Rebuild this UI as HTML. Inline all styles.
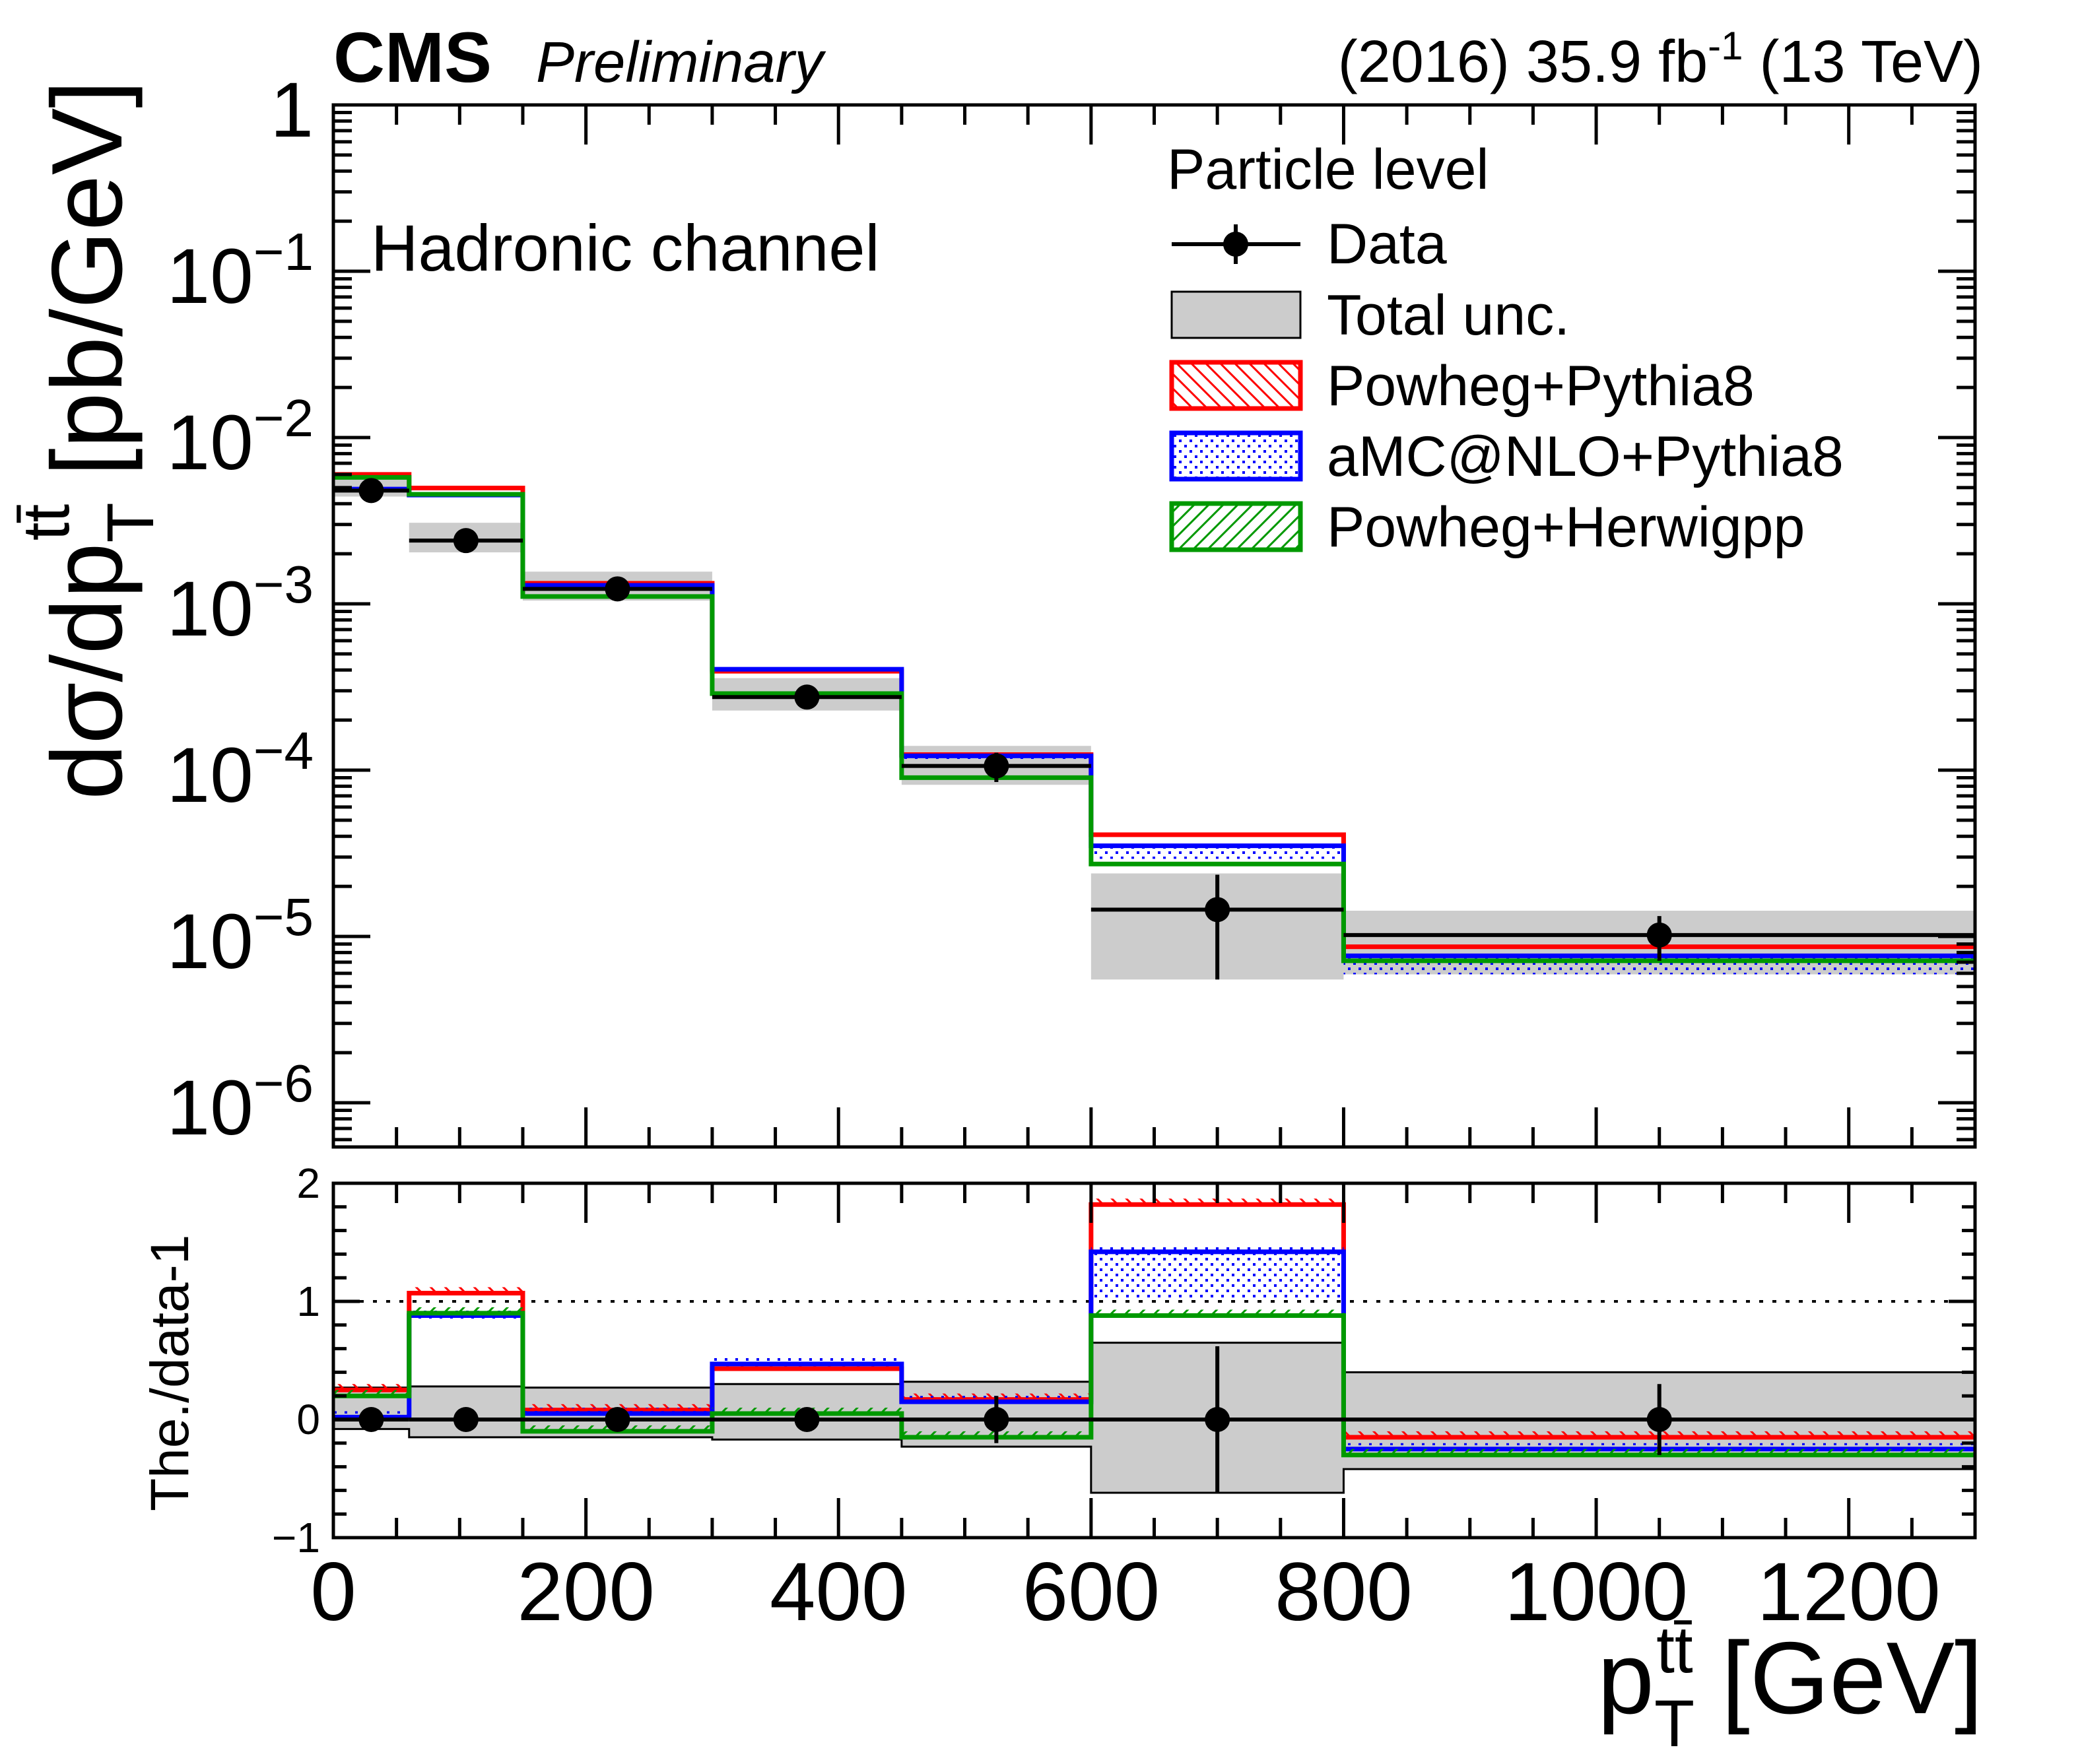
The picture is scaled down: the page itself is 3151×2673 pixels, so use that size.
<!DOCTYPE html>
<html><head><meta charset="utf-8"><style>
body{margin:0;background:#fff}
svg{display:block;font-family:"Liberation Sans",sans-serif}
</style></head><body>
<svg id="c" width="3151" height="2673" viewBox="0 0 3151 2673" xmlns="http://www.w3.org/2000/svg">
<defs>
<pattern id="pr" width="22" height="22" patternUnits="userSpaceOnUse"><path d="M0,0 L22,22 M-11,11 L11,33 M11,-11 L33,11" stroke="#f00" stroke-width="3"/></pattern>
<pattern id="pb" width="16" height="16" patternUnits="userSpaceOnUse"><rect x="2" y="2" width="4" height="4" fill="#00f"/><rect x="10" y="10" width="4" height="4" fill="#00f"/></pattern>
<pattern id="pg" width="22" height="22" patternUnits="userSpaceOnUse"><path d="M0,22 L22,0 M-11,11 L11,-11 M11,33 L33,11" stroke="#090" stroke-width="3"/></pattern>
</defs>
<g id="main"></g>
<g id="ratio"></g>
<g id="txt">
<text x="505" y="124" font-size="108" font-weight="bold">CMS</text>
<text x="812" y="124" font-size="87" font-style="italic">Preliminary</text>
<text x="3004" y="124" font-size="90" text-anchor="end">(2016) 35.9 fb<tspan dy="-34" font-size="60">-1</tspan><tspan dy="34"> (13 TeV)</tspan></text>
<text x="562" y="410" font-size="99">Hadronic channel</text>
<text x="1768" y="286" font-size="86">Particle level</text>
<text transform="translate(184,1212) rotate(-90)" font-size="152">dσ/dp<tspan dy="48" font-size="100">T</tspan><tspan dx="-58" dy="-128" font-size="100">tt̄</tspan><tspan dy="80"> [pb/GeV]</tspan></text>
<text transform="translate(285,2290) rotate(-90)" font-size="82">The./data-1</text>
<text x="3004" y="2596" font-size="155" text-anchor="end">p<tspan dy="50" font-size="100">T</tspan><tspan dx="-58" dy="-112" font-size="100">tt̄</tspan><tspan dy="62"> [GeV]</tspan></text>
</g>
<g id="legend"></g>
</svg>
<script>
const binEdges=[0,60,150,300,450,600,800,1300];
const dataVals=[4.8e-3,2.4e-3,1.23e-3,2.75e-4,1.06e-4,1.45e-5,1.02e-5];
const statErr=[0.03,0.04,0.03,0.1,0.2,0.62,0.3];
const uncUp=[0.27,0.28,0.27,0.3,0.32,0.65,0.4];
const uncDn=[-0.08,-0.15,-0.15,-0.17,-0.23,-0.62,-0.42];
const ratioPowhegPy=[0.25,1.07,0.08,0.43,0.17,1.82,-0.15];
const ratioAmc=[0.02,0.88,0.05,0.47,0.15,1.42,-0.25];
const ratioHerwig=[0.2,0.9,-0.1,0.05,-0.15,0.88,-0.3];
const amcBandDn=[0.03,0.03,0.03,0.05,0.05,0.4,0.17];
const xTicks=[0,200,400,600,800,1000,1200];
const yDecades=[0,-1,-2,-3,-4,-5,-6];
const rTicks=[-1,0,1,2];

const NS="http://www.w3.org/2000/svg";
const L=505,R=2992,MT=159,MB=1738,RT=1793,RB=2330;
const X=v=>L+(v-0)*(R-L)/1300;
const Y=v=>MT+(-Math.log10(v))*252;
const RY=v=>RT+(2-v)*(RB-RT)/3;
function el(p,t,a){const e=document.createElementNS(NS,t);for(const k in a)e.setAttribute(k,a[k]);p.appendChild(e);return e;}
const main=document.getElementById('main'),ratio=document.getElementById('ratio'),leg=document.getElementById('legend');

function stepPath(vals,fy){let d='';for(let i=0;i<vals.length;i++){const y=fy(vals[i]);d+=(i?'L':'M')+X(binEdges[i])+','+y+'L'+X(binEdges[i+1])+','+y;}return d;}

for(let i=0;i<dataVals.length;i++){
  const y1=Y(dataVals[i]*(1+uncUp[i])),y2=Y(dataVals[i]*(1+uncDn[i]));
  const r=el(main,'rect',{x:X(binEdges[i]),y:y1,width:X(binEdges[i+1])-X(binEdges[i]),height:y2-y1,fill:'#cccccc'});
  
  
}
const models=[[ratioPowhegPy,'#ff0000','url(#pr)','powheg-pythia8'],[ratioAmc,'#0000ff','url(#pb)','amcatnlo-pythia8'],[ratioHerwig,'#009900','url(#pg)','powheg-herwigpp']];
for(let i=0;i<dataVals.length;i++){
  const v=dataVals[i]*(1+ratioAmc[i]),lo=dataVals[i]*(1+ratioAmc[i]-amcBandDn[i]);
  const b=el(main,'rect',{x:X(binEdges[i]),y:Y(v),width:X(binEdges[i+1])-X(binEdges[i]),height:Y(lo)-Y(v),fill:'url(#pb)'});
  
  
  const b2=el(ratio,'rect',{x:X(binEdges[i]),y:RY(ratioAmc[i]),width:X(binEdges[i+1])-X(binEdges[i]),height:RY(ratioAmc[i]-amcBandDn[i])-RY(ratioAmc[i]),fill:'url(#pb)'});
  
  
}
for(const [rv,col,pat,nm] of models){
  const vals=rv.map((r,i)=>dataVals[i]*(1+r));
  const p=el(main,'path',{d:stepPath(vals,Y),fill:'none',stroke:col,'stroke-width':7});
  
  
}
for(let i=0;i<dataVals.length;i++){
  const cx=(binEdges[i]+binEdges[i+1])/2,y=Y(dataVals[i]);
  const g=el(main,'g',{});
  
  
  el(g,'line',{x1:X(binEdges[i]),x2:X(binEdges[i+1]),y1:y,y2:y,stroke:'#000','stroke-width':6});
  el(g,'line',{x1:X(cx),x2:X(cx),y1:Y(dataVals[i]*(1+statErr[i])),y2:Y(dataVals[i]*(1-statErr[i])),stroke:'#000','stroke-width':6});
  el(g,'circle',{cx:X(cx),cy:y,r:19,fill:'#000'});
}
for(let i=0;i<dataVals.length;i++){
  const r=el(ratio,'rect',{x:X(binEdges[i]),y:RY(uncUp[i]),width:X(binEdges[i+1])-X(binEdges[i]),height:RY(uncDn[i])-RY(uncUp[i]),fill:'#cccccc'});
  
  
}
el(ratio,'path',{d:stepPath(uncUp,RY),fill:'none',stroke:'#000','stroke-width':3});
el(ratio,'path',{d:stepPath(uncDn,RY),fill:'none',stroke:'#000','stroke-width':3});
const dl=el(ratio,'line',{x1:L,x2:R,y1:RY(1),y2:RY(1),stroke:'#000','stroke-width':4,'stroke-dasharray':'6,14'});


for(const [rv,col,pat,nm] of models){
  for(let i=0;i<rv.length;i++){
    el(ratio,'rect',{x:X(binEdges[i]),y:RY(rv[i]+0.05),width:X(binEdges[i+1])-X(binEdges[i]),height:RY(rv[i])-RY(rv[i]+0.05),fill:pat});
  }
  const p=el(ratio,'path',{d:stepPath(rv,RY),fill:'none',stroke:col,'stroke-width':7});
  
  
}
for(let i=0;i<dataVals.length;i++){
  const cx=(binEdges[i]+binEdges[i+1])/2;
  const g=el(ratio,'g',{});
  
  
  el(g,'line',{x1:X(binEdges[i]),x2:X(binEdges[i+1]),y1:RY(0),y2:RY(0),stroke:'#000','stroke-width':6});
  el(g,'line',{x1:X(cx),x2:X(cx),y1:RY(statErr[i]),y2:RY(-statErr[i]),stroke:'#000','stroke-width':6});
  el(g,'circle',{cx:X(cx),cy:RY(0),r:19,fill:'#000'});
}
const svg=document.getElementById('c');
for(const [top,bot,nm] of [[MT,MB,'main-frame'],[RT,RB,'ratio-frame']]){
  const f=el(svg,'rect',{x:L,y:top,width:R-L,height:bot-top,fill:'none',stroke:'#000','stroke-width':5});
  
  
  for(let v=0;v<=1300;v+=50){
    const len=(v%200===0)?60:30;
    el(svg,'line',{x1:X(v),x2:X(v),y1:top,y2:top+len,stroke:'#000','stroke-width':5});
    el(svg,'line',{x1:X(v),x2:X(v),y1:bot,y2:bot-len,stroke:'#000','stroke-width':5});
  }
}
for(let d=0;d>=-7;d--){
  for(let m=1;m<10;m++){
    const v=m*Math.pow(10,d);const y=Y(v);
    if(y<MT||y>MB)continue;
    const len=m===1?56:28;
    el(svg,'line',{x1:L,x2:L+len,y1:y,y2:y,stroke:'#000','stroke-width':5});
    el(svg,'line',{x1:R,x2:R-len,y1:y,y2:y,stroke:'#000','stroke-width':5});
  }
}
for(let v=-1;v<=2.001;v+=0.2){
  const maj=Math.abs(v-Math.round(v))<1e-6;const len=maj?40:20;const y=RY(v);
  el(svg,'line',{x1:L,x2:L+len,y1:y,y2:y,stroke:'#000','stroke-width':5});
  el(svg,'line',{x1:R,x2:R-len,y1:y,y2:y,stroke:'#000','stroke-width':5});
}
for(const v of xTicks){
  const t=el(svg,'text',{x:X(v),y:2455,'font-size':125,'text-anchor':'middle'});t.textContent=v;
  
  
}
for(const d of yDecades){
  const y=Y(Math.pow(10,d));
  const t=el(svg,'text',{x:475,y:y+48,'font-size':118,'text-anchor':'end'});
  
  
  if(d===0){t.textContent='1';}
  else{t.textContent='10';const s=el(t,'tspan',{dy:-50,'font-size':80});s.textContent='−'+(-d);}
}
for(const v of rTicks){
  const t=el(svg,'text',{x:485,y:RY(v)+22,'font-size':64,'text-anchor':'end'});t.textContent=v<0?'−'+(-v):v;
  
  
}
const LX1=1775,LX2=1970,TX=2010;
const lg1=el(leg,'g',{});


el(lg1,'line',{x1:LX1,x2:LX2,y1:370,y2:370,stroke:'#000','stroke-width':6});
el(lg1,'line',{x1:1872,x2:1872,y1:340,y2:400,stroke:'#000','stroke-width':6});
el(lg1,'circle',{cx:1872,cy:370,r:19,fill:'#000'});
let tt=el(lg1,'text',{x:TX,y:399,'font-size':86});tt.textContent='Data';
const entries=[['Total unc.','#cccccc','#000','total-unc'],['Powheg+Pythia8','url(#pr)','#f00','powheg-pythia8'],['aMC@NLO+Pythia8','url(#pb)','#00f','amcatnlo-pythia8'],['Powheg+Herwigpp','url(#pg)','#090','powheg-herwigpp']];
entries.forEach((e,k)=>{
  const y=442+k*107;
  const g=el(leg,'g',{});
  
  
  el(g,'rect',{x:LX1,y:y,width:LX2-LX1,height:70,fill:e[1],stroke:e[2],'stroke-width':k===0?3:7});
  const t=el(g,'text',{x:TX,y:y+65,'font-size':86});t.textContent=e[0];
});
</script>
</body></html>
